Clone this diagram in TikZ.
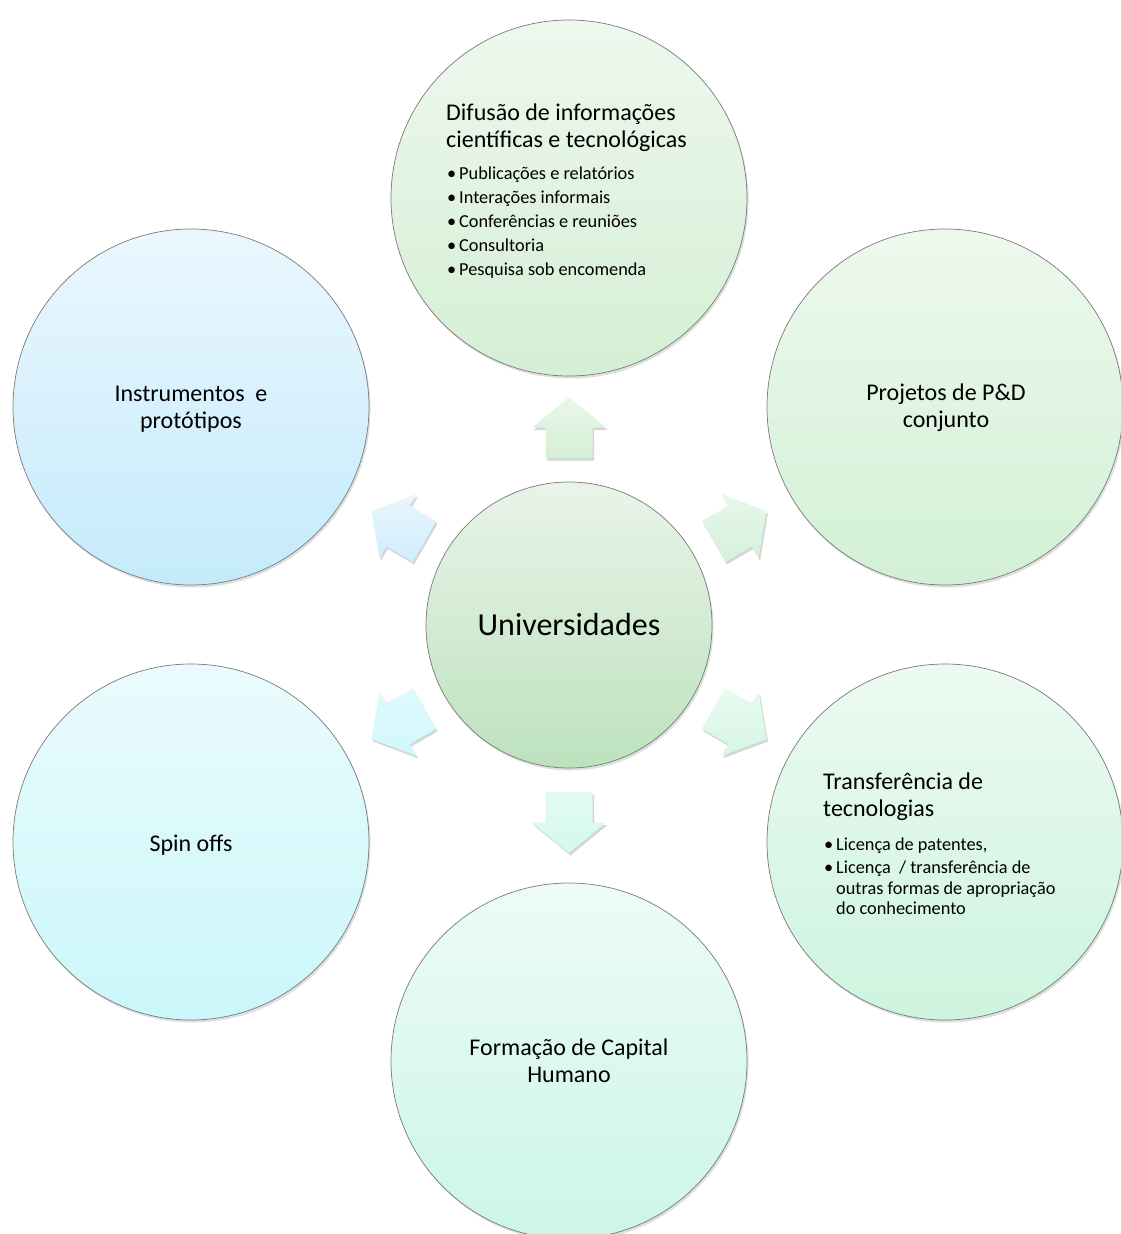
\documentclass[tikz,border=0pt]{standalone}
\usepackage{fontspec}
\setmainfont{Carlito}
\usetikzlibrary{shadows,calc}
\definecolor{difT}{HTML}{EEF8EE}\definecolor{difB}{HTML}{D4EFD4}
\definecolor{univT}{HTML}{E9F4E9}\definecolor{univB}{HTML}{BDE2BD}
\definecolor{projT}{HTML}{EDF9ED}\definecolor{projB}{HTML}{D2F0D6}
\definecolor{trT}{HTML}{ECFAF2}\definecolor{trB}{HTML}{CDF4DF}
\definecolor{formT}{HTML}{EDFBF6}\definecolor{formB}{HTML}{CBF6E8}
\definecolor{spinT}{HTML}{EAFBFD}\definecolor{spinB}{HTML}{CBF7FA}
\definecolor{instT}{HTML}{EBF7FE}\definecolor{instB}{HTML}{C4EBFB}
\definecolor{upT}{HTML}{EAF7EA}\definecolor{upB}{HTML}{D4EFD4}
\definecolor{urT}{HTML}{E6F7E9}\definecolor{urB}{HTML}{D5F1DC}
\definecolor{drT}{HTML}{E8FAF0}\definecolor{drB}{HTML}{D6F6E6}
\definecolor{dnT}{HTML}{E2FBF5}\definecolor{dnB}{HTML}{D4F8EE}
\definecolor{dlT}{HTML}{DEFAFD}\definecolor{dlB}{HTML}{D2F7FB}
\definecolor{ulT}{HTML}{E8F6FE}\definecolor{ulB}{HTML}{D0EEFC}
\definecolor{edge}{HTML}{7A7A7A}
\newcommand\blt[1]{\hangindent=12pt\hangafter=1\noindent\hbox to 12pt{\textbullet\hfil}#1\par}
\begin{document}
\begin{tikzpicture}[x=1pt,y=-1pt,
  bubble/.style={circle, draw=edge, line width=0.7pt, minimum size=356pt, inner sep=0pt,
    drop shadow={shadow xshift=1.5pt, shadow yshift=-2.5pt, opacity=0.25}},
  lbl/.style={font=\fontsize{24}{27}\selectfont, align=center, anchor=base, inner sep=0pt},
  ttl/.style={font=\fontsize{24}{26.5}\selectfont, align=left, anchor=base west, inner sep=0pt},
  blist/.style={font=\fontsize{18.3}{20.5}\selectfont, text width=300pt, align=flush left, anchor=base west, inner sep=0pt}]
\useasboundingbox (0,0) rectangle (1121,1234);
\fill[white] (0,0) rectangle (1121,1234);

% outer circles
\node[bubble, top color=difT, bottom color=difB] (dif) at (569,198) {};
\node[bubble, top color=projT, bottom color=projB] (proj) at (945,407) {};
\node[bubble, top color=trT, bottom color=trB] (tr) at (945,842) {};
\node[bubble, top color=formT, bottom color=formB] (form) at (569,1061) {};
\node[bubble, top color=spinT, bottom color=spinB] (spin) at (191,842) {};
\node[bubble, top color=instT, bottom color=instB] (inst) at (191,407) {};
% centre
\node[bubble, minimum size=286pt, top color=univT, bottom color=univB] (univ) at (569,625) {};

% block arrows
\foreach \r/\ct/\cb in {0/upT/upB, 300/urT/urB, 240/drT/drB, 180/dnT/dnB, 120/dlT/dlB, 60/ulT/ulB} {
  \fill[black, opacity=0.16, shift={(univ.center)}, xshift=1.5pt, yshift=-2.5pt, rotate=\r]
    (0,-228) -- (37,-197.5) -- (23.5,-197.5) -- (23.5,-167) -- (-23.5,-167) -- (-23.5,-197.5) -- (-37,-197.5) -- cycle;
  \shade[shift={(univ.center)}, rotate=\r, top color=\ct, bottom color=\cb]
    (0,-228) -- (37,-197.5) -- (23.5,-197.5) -- (23.5,-167) -- (-23.5,-167) -- (-23.5,-197.5) -- (-37,-197.5) -- cycle;
}

% texts
\node[font=\fontsize{32}{36}\selectfont, anchor=base, inner sep=0pt] (univt) at (569,635) {Universidades};
\node[ttl] (dift) at (446,147) {Difusão de informações\\científicas e tecnológicas};
\node[blist] (difl) at (447,179) {\setlength\parskip{3.5pt}%
  \blt{Publicações e relatórios}\blt{Interações informais}\blt{Conferências e reuniões}\blt{Consultoria}\blt{Pesquisa sob encomenda}};
\node[lbl] (projt) at (946,427) {Projetos de P\&D\\conjunto};
\node[lbl] (instt) at (191,428) {Instrumentos\ \ e\\protótipos};
\node[ttl] (trt) at (823,816) {Transferência de\\tecnologias};
\node[blist] (trl) at (824,850) {\setlength\parskip{3pt}%
  \blt{Licença de patentes,}\blt{Licença\ \ / transferência de\hfil\break outras formas de apropriação\hfil\break do conhecimento}};
\node[lbl] (spint) at (191,851) {Spin offs};
\node[lbl] (formt) at (569,1082) {Formação de Capital\\Humano};
\end{tikzpicture}
\end{document}
